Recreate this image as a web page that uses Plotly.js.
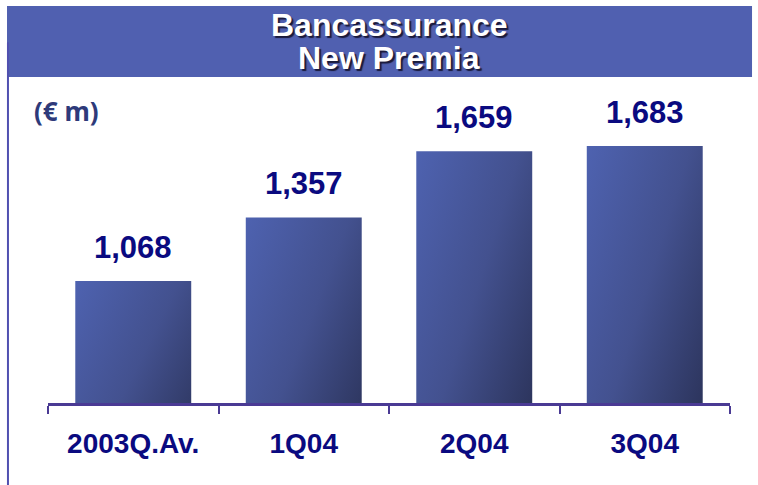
<!DOCTYPE html>
<html>
<head>
<meta charset="utf-8">
<script src="https://cdn.plot.ly/plotly-3.0.1.min.js"></script>
<style>html,body{margin:0;padding:0;background:#fff;}</style>
</head>
<body>
<div id="chart" style="width:758px;height:485px;"></div>
<script>
const categories = ["2003Q.Av.", "1Q04", "2Q04", "3Q04"];
const values = [1068, 1357, 1659, 1683];
const titleLines = ["Bancassurance", "New Premia"];
const unitLabel = "(€ m)";

const navy = "#0A0A80";
const fmt = v => v.toLocaleString("en-US");

const annotations = values.map((v, i) => ({
  x: categories[i], y: v, xref: "x", yref: "y",
  text: fmt(v), showarrow: false, yanchor: "bottom", yshift: 14,
  font: {family: "Liberation Sans, Arial, sans-serif", size: 31, color: navy, weight: "bold"}
}));
annotations.push(
  {x: 0.5, y: 1.247, xref: "paper", yref: "paper", text: "<b>" + titleLines[0] + "</b>", showarrow: false,
   yanchor: "middle", font: {family: "Liberation Sans, Arial, sans-serif", size: 32, color: "#ffffff", shadow: "2px 2px 1px #1a1a3a"}},
  {x: 0.5, y: 1.140, xref: "paper", yref: "paper", text: "<b>" + titleLines[1] + "</b>", showarrow: false,
   yanchor: "middle", font: {family: "Liberation Sans, Arial, sans-serif", size: 32, color: "#ffffff", shadow: "2px 2px 1px #1a1a3a"}},
  {x: -0.0235, y: 0.965, xref: "paper", yref: "paper", text: "<b>" + unitLabel + "</b>", showarrow: false,
   xanchor: "left", yanchor: "middle", font: {family: "Noto Sans, sans-serif", size: 26, color: "#2E3A7A"}}
);

const data = [{
  type: "bar", x: categories, y: values,
  marker: {color: "#3F4C8E", line: {width: 0}},
  hoverinfo: "none"
}];

const layout = {
  width: 758, height: 485,
  margin: {l: 48, r: 28, t: 100, b: 82, pad: 0},
  paper_bgcolor: "#ffffff", plot_bgcolor: "#ffffff",
  bargap: 0.32,
  showlegend: false,
  xaxis: {
    type: "category", showline: true, linecolor: "#4A3A94", linewidth: 3,
    ticks: "outside", tickson: "boundaries", ticklen: 8, tickwidth: 2, tickcolor: "#4A3A94",
    showgrid: false, zeroline: false, ticklabelstandoff: 13,
    tickfont: {family: "Liberation Sans, Arial, sans-serif", size: 28, color: navy, weight: "bold"}
  },
  yaxis: {visible: false, range: [512, 1892], showgrid: false, zeroline: false},
  shapes: [
    {type: "rect", xref: "paper", yref: "paper", x0: -0.0601, x1: 1.0323, y0: 1.0759, y1: 1.3102,
     fillcolor: "#5060B0", line: {width: 0}, layer: "below"},
    {type: "line", xref: "paper", yref: "paper", x0: -0.0587, x1: -0.0587, y0: 1.191, y1: -0.3,
     line: {color: "#5050B0", width: 2}}
  ],
  annotations: annotations
};

function applyGradient() {
  const svg = document.querySelector("#chart .main-svg");
  if (!svg) return;
  let defs = svg.querySelector("defs");
  if (!defs) { defs = document.createElementNS("http://www.w3.org/2000/svg", "defs"); svg.insertBefore(defs, svg.firstChild); }
  if (!svg.querySelector("#barGrad")) {
    const g = document.createElementNS("http://www.w3.org/2000/svg", "linearGradient");
    g.setAttribute("id", "barGrad");
    g.setAttribute("x1", "0"); g.setAttribute("y1", "0");
    g.setAttribute("x2", "1"); g.setAttribute("y2", "1");
    [["0", "#4E62B0"], ["0.45", "#43518F"], ["1", "#242A4A"]].forEach(([o, c]) => {
      const s = document.createElementNS("http://www.w3.org/2000/svg", "stop");
      s.setAttribute("offset", o); s.setAttribute("stop-color", c);
      g.appendChild(s);
    });
    defs.appendChild(g);
  }
  document.querySelectorAll("#chart .bars .point path").forEach(p => { p.style.fill = "url(#barGrad)"; });
}

Plotly.newPlot("chart", data, layout, {displayModeBar: false, staticPlot: true}).then(gd => {
  applyGradient();
  gd.on("plotly_afterplot", applyGradient);
});
</script>
</body>
</html>
